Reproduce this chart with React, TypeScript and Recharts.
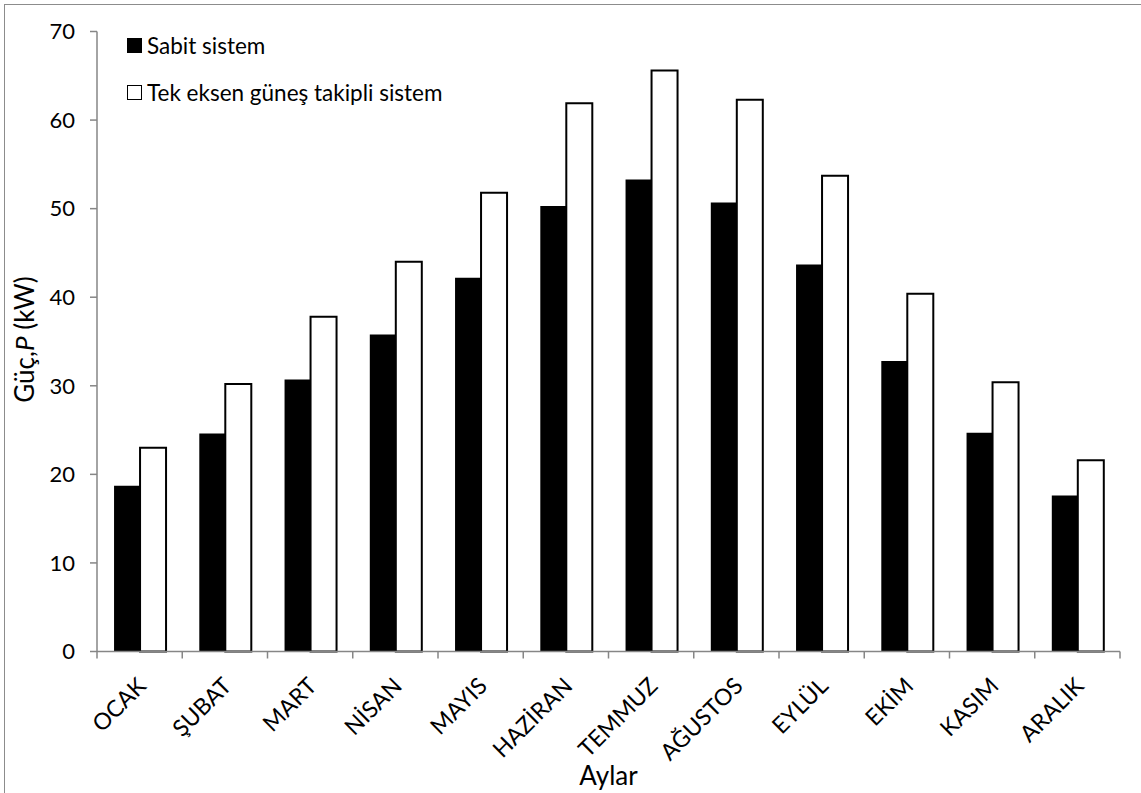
import { BarChart, Bar, XAxis, YAxis, Legend, Label } from "recharts";

const MONTHS = ["OCAK", "ŞUBAT", "MART", "NİSAN", "MAYIS", "HAZİRAN", "TEMMUZ", "AĞUSTOS", "EYLÜL", "EKİM", "KASIM", "ARALIK"];
const FIXED = [18.7, 24.6, 30.7, 35.8, 42.2, 50.3, 53.3, 50.7, 43.7, 32.8, 24.7, 17.6];
const TRACKING = [23.0, 30.2, 37.8, 44.0, 51.8, 61.9, 65.6, 62.3, 53.7, 40.4, 30.4, 21.6];
const Y_TICKS = [0, 10, 20, 30, 40, 50, 60, 70];

const W = 1141;
const H = 793;
const MARGIN = { top: 31.5, right: 21, left: 0, bottom: 0 };
const Y_AXIS_W = 97;
const X_AXIS_H = 141.5;
const PLOT_W = W - MARGIN.left - MARGIN.right - Y_AXIS_W;

const AXIS = "#868686";
const FONT = "Lato, 'Noto Sans', sans-serif";

const data = MONTHS.map((m, i) => ({ month: m, fixed: FIXED[i], tracking: TRACKING[i] }));

// month labels sit at the band centre, tick marks at the band edges
function MonthTick(props: any) {
  const { x, y, payload, index } = props;
  const bw = PLOT_W / MONTHS.length;
  return (
    <g>
      <line x1={x - bw / 2} x2={x - bw / 2} y1={y} y2={y + 7} stroke={AXIS} strokeWidth={1.5} />
      {index === MONTHS.length - 1 && (
        <line x1={x + bw / 2} x2={x + bw / 2} y1={y} y2={y + 7} stroke={AXIS} strokeWidth={1.5} />
      )}
      <text
        transform={`translate(${x + 8},${y + 36}) rotate(-45)`}
        textAnchor="end"
        fontSize={23}
        fontFamily={FONT}
        fill="#000"
      >
        {payload.value}
      </text>
    </g>
  );
}

function LegendBox({ payload }: any) {
  return (
    <div style={{ fontFamily: FONT, fontSize: 22.5, color: "#000" }}>
      {(payload || []).map((p: any) => (
        <div key={p.value} style={{ display: "flex", alignItems: "center", height: 47 }}>
          <span
            style={{
              display: "inline-block",
              width: 15,
              height: 15,
              marginRight: 5,
              background: p.payload.fill,
              border: "1.5px solid #000",
              boxSizing: "border-box",
            }}
          />
          <span>{p.value}</span>
        </div>
      ))}
    </div>
  );
}

export default function App() {
  return (
    <div style={{ position: "absolute", left: 0, top: 0, width: W, height: H, overflow: "hidden", background: "#fff" }}>
      <div
        style={{
          position: "absolute",
          left: 4,
          top: 4,
          width: W + 20,
          height: H + 20,
          border: "1px solid #8c8c8c",
        }}
      />
      <BarChart
        width={W}
        height={H}
        data={data}
        margin={MARGIN}
        barCategoryGap="20%"
        barGap={0}
        style={{ position: "absolute", left: 0, top: 0 }}
      >
        <XAxis
          dataKey="month"
          height={X_AXIS_H}
          interval={0}
          tickSize={0}
          tickMargin={0}
          tick={<MonthTick />}
          axisLine={{ stroke: AXIS, strokeWidth: 1.5 }}
          tickLine={false}
        >
          <Label
            content={({ viewBox }: any) => (
              <text
                x={viewBox.x + viewBox.width / 2}
                y={viewBox.y + 133}
                textAnchor="middle"
                fontSize={26}
                fontFamily={FONT}
                fill="#000"
              >
                Aylar
              </text>
            )}
          />
        </XAxis>
        <YAxis
          width={Y_AXIS_W}
          domain={[0, 70]}
          ticks={Y_TICKS}
          interval={0}
          tickSize={7}
          tickMargin={15}
          tick={{ fontSize: 22, fontFamily: FONT, fill: "#000" }}
          axisLine={{ stroke: AXIS, strokeWidth: 1.5 }}
          tickLine={{ stroke: AXIS, strokeWidth: 1.5 }}
        >
          <Label
            content={({ viewBox }: any) => {
              const cx = viewBox.x + 34;
              const cy = viewBox.y + viewBox.height / 2 - 2;
              return (
                <text
                  transform={`translate(${cx},${cy}) rotate(-90)`}
                  textAnchor="middle"
                  fontSize={26}
                  fontFamily={FONT}
                  fill="#000"
                >
                  Güç,<tspan fontStyle="italic">P</tspan> (kW)
                </text>
              );
            }}
          />
        </YAxis>
        <Legend
          verticalAlign="middle"
          align="center"
          content={<LegendBox />}
          wrapperStyle={{ left: 127, top: 22, width: "auto", height: "auto" }}
        />
        <Bar dataKey="fixed" name="Sabit sistem" fill="#000" isAnimationActive={false} />
        <Bar
          dataKey="tracking"
          name="Tek eksen güneş takipli sistem"
          fill="#fff"
          stroke="#000"
          strokeWidth={2}
          isAnimationActive={false}
        />
      </BarChart>
    </div>
  );
}
